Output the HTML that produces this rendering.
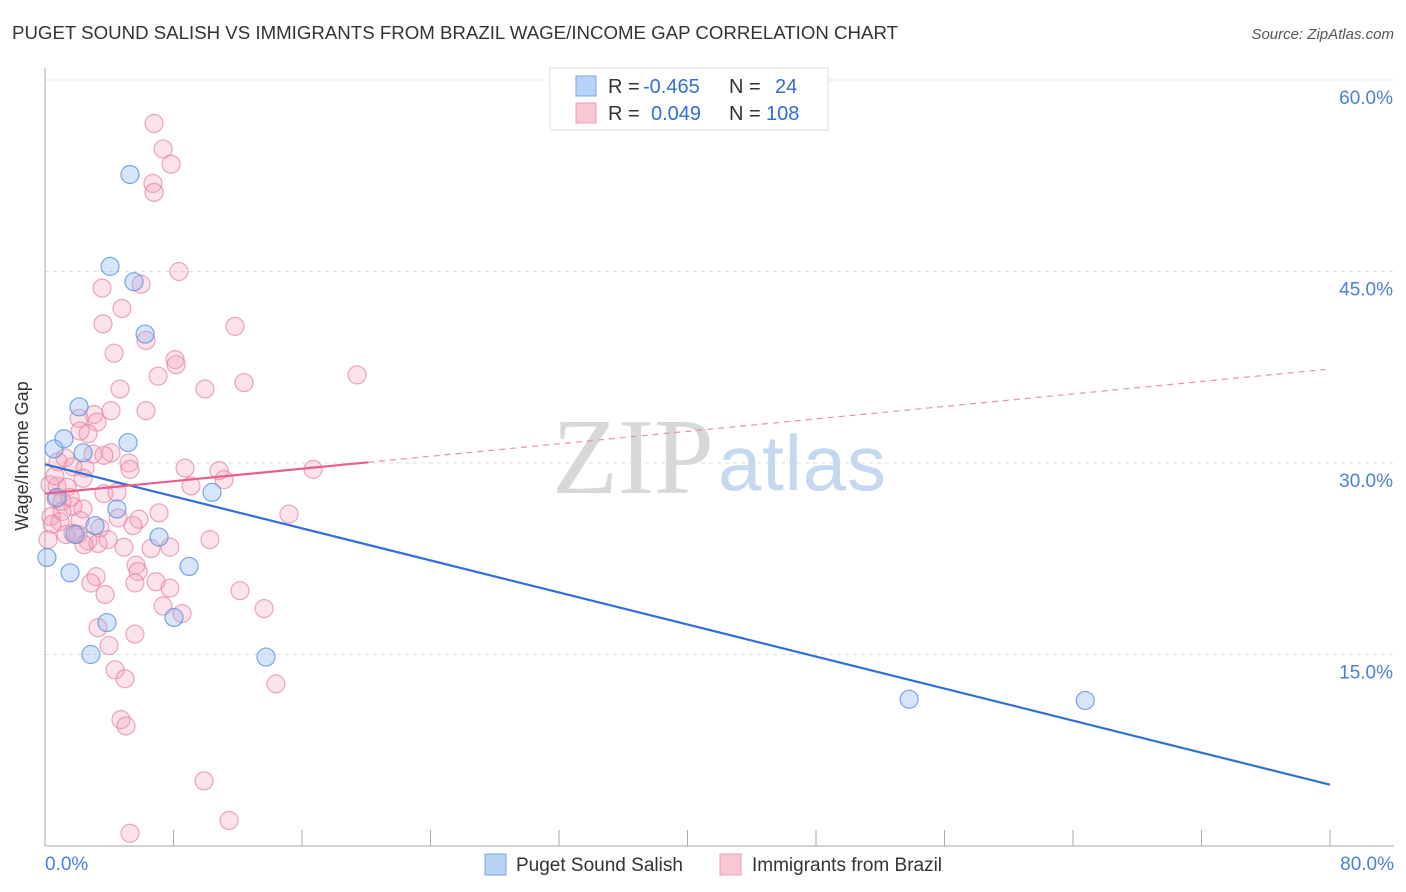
<!DOCTYPE html>
<html><head><meta charset="utf-8"><style>
body{margin:0;background:#fff;font-family:"Liberation Sans",sans-serif;}
#wrap{position:relative;width:1406px;height:892px;overflow:hidden;}
</style></head><body>
<div id="wrap">
<svg id="chart" width="1406" height="892" xmlns="http://www.w3.org/2000/svg">
<text x="12" y="39" font-size="18" fill="#333" textLength="886" lengthAdjust="spacingAndGlyphs">PUGET SOUND SALISH VS IMMIGRANTS FROM BRAZIL WAGE/INCOME GAP CORRELATION CHART</text>
<text x="1394" y="39" font-size="15" fill="#555" font-style="italic" text-anchor="end">Source: ZipAtlas.com</text>
<g id="grid"></g>
<g id="watermark">
<text x="552" y="493" font-family="Liberation Serif,serif" font-size="108" fill="#d8d8d8" textLength="162">ZIP</text>
<text x="718" y="490" font-size="78" fill="#c5d8f0" textLength="168">atlas</text>
</g>
<line x1="45" y1="68" x2="45" y2="846" stroke="#aaa"/>
<line x1="45" y1="846" x2="1394" y2="846" stroke="#aaa"/>
<g id="xticks"></g>
<g id="pts"></g>
<g id="trend"></g>
<text x="28" y="456" font-size="18" fill="#333" text-anchor="middle" transform="rotate(-90 28 456)">Wage/Income Gap</text>
<text x="45" y="870" font-size="19" fill="#4a80d8">0.0%</text>
<text x="1394" y="870" font-size="19" fill="#4a80d8" text-anchor="end">80.0%</text>
<g>
<rect x="550" y="68" width="278" height="62" fill="#fff" stroke="#ddd"/>
<rect x="576" y="76" width="20" height="20" fill="#b8d3f5" stroke="#7aa6e6"/>
<rect x="576" y="103" width="20" height="20" fill="#f9c6d4" stroke="#ec9db4"/>
<text y="93" font-size="20" fill="#333"><tspan x="608">R = </tspan><tspan x="643" fill="#2f6fd6">-0.465</tspan><tspan x="729">N = </tspan><tspan x="775" fill="#2f6fd6">24</tspan></text>
<text y="120" font-size="20" fill="#333"><tspan x="608">R = </tspan><tspan x="651" fill="#2f6fd6">0.049</tspan><tspan x="729">N = </tspan><tspan x="766" fill="#2f6fd6">108</tspan></text>
</g>
<g>
<rect x="485" y="854" width="21" height="21" fill="#b8d3f5" stroke="#7aa6e6"/>
<text x="516" y="871" font-size="19" fill="#333">Puget Sound Salish</text>
<rect x="720" y="854" width="21" height="21" fill="#f9c6d4" stroke="#ec9db4"/>
<text x="752" y="871" font-size="19" fill="#333">Immigrants from Brazil</text>
</g>
</svg>
</div>
<script>
const yTicks=[15,30,45,60];
const yTickLabels=["15.0%","30.0%","45.0%","60.0%"];
const xTicks=[0,8,16,24,32,40,48,56,64,72,80];
const blueX=[5.29,4.05,5.54,6.23,2.12,1.18,5.17,0.56,2.37,0.75,4.48,10.4,3.11,7.1,1.87,0.12,1.56,8.97,3.86,8.03,2.86,13.76,53.8,64.76];
const blueY=[52.6,45.4,44.2,40.1,34.4,31.9,31.6,31.1,30.8,27.3,26.4,27.7,25.1,24.2,24.4,22.6,21.4,21.9,17.5,17.9,15.0,14.8,11.5,11.4];
const pinkX=[6.79,7.35,7.85,6.72,6.79,8.34,3.55,5.98,4.79,3.61,11.83,4.30,6.29,8.10,8.16,7.04,19.43,12.39,9.96,4.67,4.11,6.29,3.05,2.12,3.24,2.68,4.11,5.23,1.25,0.81,1.74,2.49,5.29,8.72,10.84,16.69,2.37,11.15,0.31,0.75,1.37,9.09,3.67,4.48,0.68,1.74,2.37,1.06,2.18,4.55,5.85,7.10,15.19,0.37,0.93,3.42,1.74,2.05,2.68,3.30,3.92,4.92,6.60,7.78,10.27,5.67,5.79,3.18,2.86,5.60,6.91,7.78,3.74,12.14,7.35,8.53,13.64,3.30,5.60,3.99,4.36,4.98,14.38,4.73,5.04,9.90,5.29,11.46,0.44,0.19,0.62,1.06,3.67,5.48,2.43,1.31,2.18,2.99,1.56];
const pinkY=[56.6,54.6,53.4,51.9,51.2,45.0,43.7,44.0,42.1,40.9,40.7,38.6,39.6,38.1,37.7,36.8,36.9,36.3,35.8,35.8,34.1,34.1,33.8,33.5,33.2,32.3,30.8,30.0,30.4,30.1,29.7,29.6,29.5,29.6,29.4,29.5,28.8,28.7,28.3,28.2,28.1,28.2,27.6,27.7,27.2,26.6,26.4,26.2,25.5,25.7,25.6,26.1,26.0,25.8,25.4,24.9,24.5,24.4,23.9,23.7,24.0,23.4,23.3,23.4,24.0,22.0,21.5,21.1,20.6,20.6,20.7,20.2,19.7,20.0,18.8,18.2,18.6,17.1,16.6,15.7,13.8,13.1,12.7,9.9,9.4,5.1,1.0,2.0,25.2,24.0,29.0,27.0,30.6,25.1,23.6,24.4,32.5,30.7,27.3];
const blueTrend=[29.9,4.8];
const pinkTrend=[27.6,0.122];
const pinkSolidEnd=20.1, pinkDashEnd=79.7;
const NS="http://www.w3.org/2000/svg";
function xs(v){return 45+v/80*1285;}
function ys(v){return 846-v*766/60;}
function mk(t,a,p){const e=document.createElementNS(NS,t);for(const k in a)e.setAttribute(k,a[k]);p.appendChild(e);return e;}
const grid=document.getElementById('grid');
yTicks.forEach((t,i)=>{
 const l=mk('line',{x1:45,x2:1394,y1:ys(t),y2:ys(t),stroke:'#ddd','stroke-dasharray':'4,4'},grid);
 
 
 const tx=mk('text',{x:1393,y:ys(t)+24,'font-size':19,fill:'#4a80d8','text-anchor':'end'},grid);
 tx.textContent=yTickLabels[i];
 
 
});
const xt=document.getElementById('xticks');
xTicks.forEach(t=>{
 const l=mk('line',{x1:xs(t),x2:xs(t),y1:830,y2:846,stroke:'#aaa'},xt);
 
 
});
const pts=document.getElementById('pts');
pinkX.forEach((x,i)=>{
 const c=mk('circle',{cx:xs(x),cy:ys(pinkY[i]),r:9,fill:'rgba(245,160,185,0.3)',stroke:'rgba(228,130,160,0.7)','stroke-width':1.2},pts);
 
 
});
blueX.forEach((x,i)=>{
 const c=mk('circle',{cx:xs(x),cy:ys(blueY[i]),r:9,fill:'rgba(140,180,240,0.35)',stroke:'rgba(90,145,225,0.8)','stroke-width':1.2},pts);
 
 
});
const tr=document.getElementById('trend');
let b=mk('line',{x1:xs(0),y1:ys(blueTrend[0]),x2:xs(80),y2:ys(blueTrend[1]),stroke:'#2f6fd6','stroke-width':2.2},tr);


const pf=v=>pinkTrend[0]+pinkTrend[1]*v;
let p=mk('line',{x1:xs(0),y1:ys(pf(0)),x2:xs(pinkSolidEnd),y2:ys(pf(pinkSolidEnd)),stroke:'#e8608a','stroke-width':2.2},tr);


let d=mk('line',{x1:xs(pinkSolidEnd),y1:ys(pf(pinkSolidEnd)),x2:xs(pinkDashEnd),y2:ys(pf(pinkDashEnd)),stroke:'#e890aa','stroke-width':1.2,'stroke-dasharray':'6,5'},tr);


</script>
</body></html>
